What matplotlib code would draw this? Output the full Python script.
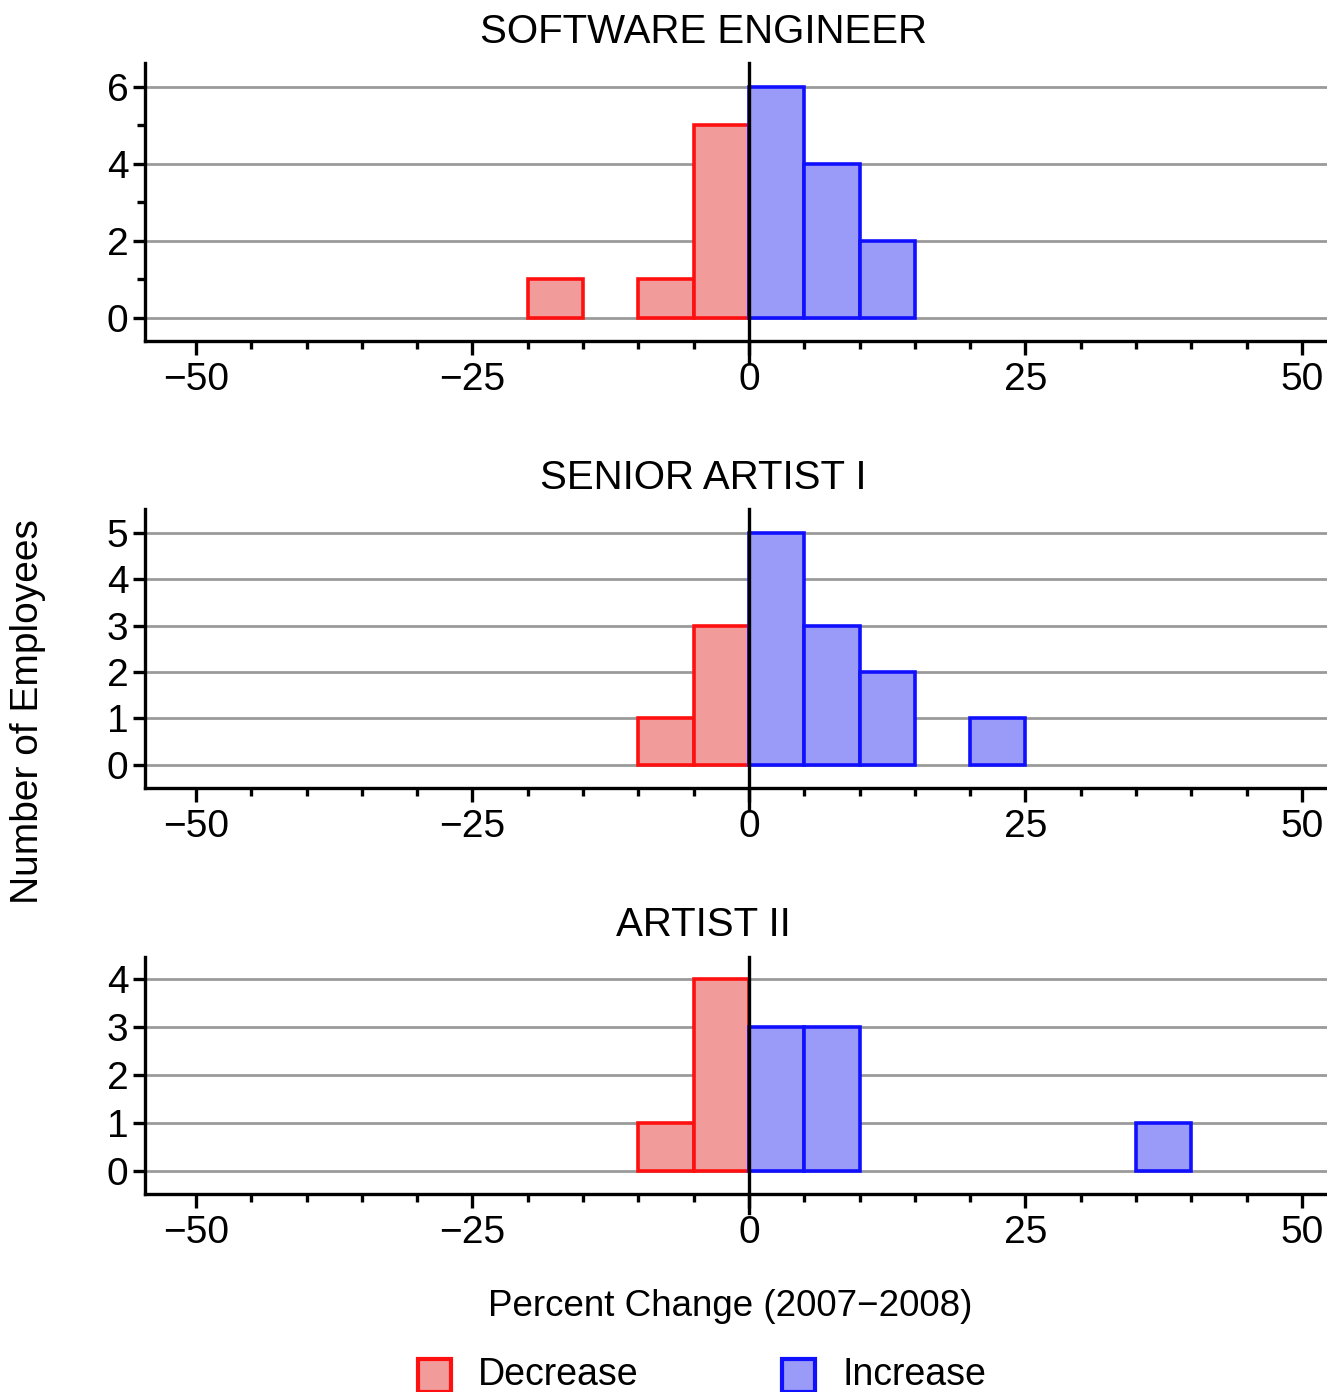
import matplotlib
matplotlib.use("Agg")
import matplotlib.pyplot as plt
import numpy as np
from matplotlib.patches import Rectangle
from matplotlib.ticker import MultipleLocator

plt.rcParams['font.family'] = ['Liberation Sans', 'DejaVu Sans']

# ---- data ----
bin_edges = [-20, -15, -10, -5, 0, 5, 10, 15, 20, 25, 30, 35, 40]
titles = ["SOFTWARE ENGINEER", "SENIOR ARTIST I", "ARTIST II"]
counts_software = [1, 0, 1, 5, 6, 4, 2, 0, 0, 0, 0, 0]
counts_senior = [0, 0, 1, 3, 5, 3, 2, 0, 1, 0, 0, 0]
counts_artist2 = [0, 0, 1, 4, 3, 3, 0, 0, 0, 0, 0, 1]
all_counts = [counts_software, counts_senior, counts_artist2]
x_ticks = [-50, -25, 0, 25, 50]
y_ticks = [[0, 2, 4, 6], [0, 1, 2, 3, 4, 5], [0, 1, 2, 3, 4]]
legend_labels = ["Decrease", "Increase"]

# ---- style ----
W, H = 1327, 1392
dpi = 100
dec_face, dec_edge = '#F29B9B', '#FF1010'
inc_face, inc_edge = '#9A9AF8', '#1010FF'
grid_col = '#9A9A9A'

fig = plt.figure(figsize=(W / dpi, H / dpi), dpi=dpi)
fig.patch.set_facecolor('white')

# pixel layout: (top, bottom, ylim)
panels = [
    (63, 341, (-0.597, 6.62)),
    (509, 788, (-0.50, 5.52)),
    (957, 1194, (-0.48, 4.46)),
]
left_px, right_px = 145, 1327
xlim = (-54.61, 52.26)
title_y = [32, 478, 925]

for i, (top, bot, ylim) in enumerate(panels):
    ax = fig.add_axes([left_px / W, 1 - bot / H, (right_px - left_px) / W, (bot - top) / H])
    ax.set_xlim(*xlim)
    ax.set_ylim(*ylim)
    for s in ['top', 'right']:
        ax.spines[s].set_visible(False)
    for s in ['left', 'bottom']:
        ax.spines[s].set_linewidth(2.4)
    for yt in y_ticks[i]:
        ax.axhline(yt, color=grid_col, lw=2.0, zorder=1)
    counts = all_counts[i]
    lefts = np.array(bin_edges[:-1], dtype=float)
    widths = np.diff(bin_edges)
    for l, w, c in zip(lefts, widths, counts):
        if c <= 0:
            continue
        if l < 0:
            fc, ec = dec_face, dec_edge
        else:
            fc, ec = inc_face, inc_edge
        ax.bar(l, c, width=w, align='edge', color=fc, edgecolor=ec, linewidth=2.6, zorder=3)
    ax.plot([0, 0], [ylim[0] - 0.08 * (ylim[1] - ylim[0]), ylim[1]], color='black', lw=2.4,
            zorder=4, clip_on=False)
    ax.set_xticks(x_ticks)
    ax.set_xticklabels([("\u2212" + str(abs(t))) if t < 0 else str(t) for t in x_ticks])
    ax.xaxis.set_minor_locator(MultipleLocator(5))
    ax.set_yticks(y_ticks[i])
    if i == 0:
        ax.yaxis.set_minor_locator(MultipleLocator(1))
    ax.tick_params(axis='x', which='major', length=10, width=2.4, labelsize=28, pad=5)
    ax.tick_params(axis='x', which='minor', length=6, width=2.4)
    ax.tick_params(axis='y', which='major', length=9, width=2.4, labelsize=28, pad=3)
    ax.tick_params(axis='y', which='minor', length=6, width=2.4)
    ax.set_facecolor('none')
    fig.text(703 / W, 1 - title_y[i] / H, titles[i], ha='center', va='center', fontsize=29)

fig.text(28 / W, 1 - 712 / H, "Number of Employees", rotation=90, ha='center', va='center',
         fontsize=28)
fig.text(730 / W, 1 - 1307 / H, "Percent Change (2007\u22122008)", ha='center', va='center',
         fontsize=26.5)

# legend
for (px, lab, fc, ec) in [(418, legend_labels[0], dec_face, dec_edge),
                          (782, legend_labels[1], inc_face, inc_edge)]:
    fig.patches.append(Rectangle((px / W, 1 - 1392 / H), 33 / W, 33 / H, transform=fig.transFigure,
                                 facecolor=fc, edgecolor=ec, linewidth=3))
    fig.text((px + 60) / W, 1 - 1375 / H, lab, ha='left', va='center', fontsize=27)

fig.savefig('out.png', dpi=dpi, facecolor='white')
